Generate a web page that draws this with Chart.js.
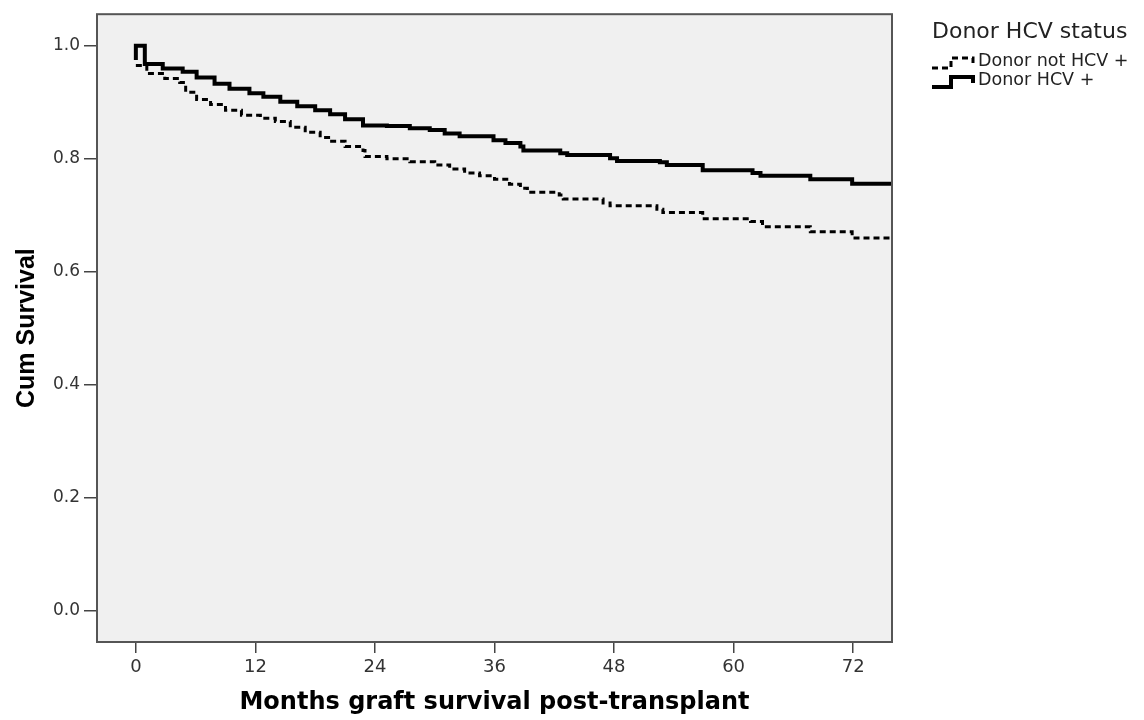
<!DOCTYPE html>
<html lang="en">
<head>
  <meta charset="UTF-8">
  <script src="https://cdn.jsdelivr.net/npm/chart.js"></script>
  <title>Graft survival by donor HCV status</title>
  <style>
    body { margin: 0; background: #fff; }
  </style>
</head>
<body>

<canvas id="kmChart" width="1144" height="720"></canvas>

<script>
  // Kaplan-Meier steps (months, cumulative survival)
  const hcvPosMonths = [0, 0, 0.9, 2.7, 4.7, 6.1, 7.9, 9.4, 11.4, 12.8, 14.5, 16.2, 18.0, 19.5, 21.0, 22.8,
    25.2, 27.5, 29.5, 31.0, 32.5, 35.9, 37.1, 38.6, 38.9, 42.6, 43.3, 47.6, 48.3, 52.6, 53.3,
    56.9, 61.9, 62.7, 67.7, 71.9, 76];
  const hcvPosSurv = [0.975, 1.0, 0.968, 0.960, 0.954, 0.944, 0.933, 0.924, 0.916, 0.910, 0.901, 0.893, 0.886, 0.879, 0.870, 0.859,
    0.858, 0.854, 0.851, 0.845, 0.840, 0.833, 0.828, 0.822, 0.815, 0.810, 0.807, 0.801, 0.796, 0.794, 0.789,
    0.780, 0.775, 0.770, 0.764, 0.756, 0.756];

  const hcvNegMonths = [0, 1.1, 2.9, 4.4, 5.0, 6.1, 7.5, 9.0, 10.6, 12.5, 14.0, 15.5, 17.0, 18.5, 19.5, 21.0,
    22.8, 23.0, 25.2, 27.5, 30.0, 31.5, 33.0, 34.5, 36.0, 37.5, 38.6, 39.3, 42.5, 42.9, 46.9, 47.6,
    52.3, 52.9, 56.9, 61.7, 62.9, 67.7, 71.9, 76];
  const hcvNegSurv = [0.965, 0.951, 0.942, 0.935, 0.918, 0.905, 0.896, 0.886, 0.877, 0.872, 0.866, 0.856, 0.847, 0.838, 0.831, 0.822,
    0.815, 0.804, 0.800, 0.795, 0.789, 0.782, 0.775, 0.770, 0.764, 0.755, 0.748, 0.741, 0.736, 0.729, 0.722, 0.717,
    0.711, 0.705, 0.694, 0.689, 0.680, 0.671, 0.660, 0.660];

  const seriesLabels = ['Donor not HCV +', 'Donor HCV +'];
  const legendTitle = 'Donor HCV status';
  const xTickValues = [0, 12, 24, 36, 48, 60, 72];
  const yTickValues = [0, 0.2, 0.4, 0.6, 0.8, 1.0];

  function toPoints(xs, ys) {
    return xs.map((x, i) => ({ x: x, y: ys[i] }));
  }

  // grey plot panel + frame
  const panelPlugin = {
    id: 'panel',
    beforeDraw(chart) {
      const { ctx, chartArea: a } = chart;
      ctx.save();
      ctx.fillStyle = '#f0f0f0';
      ctx.fillRect(a.left, a.top, a.right - a.left, a.bottom - a.top);
      ctx.restore();
    },
    afterDatasetsDraw(chart) {
      const { ctx, chartArea: a } = chart;
      ctx.save();
      ctx.strokeStyle = '#555';
      ctx.lineWidth = 2;
      ctx.strokeRect(a.left, a.top, a.right - a.left, a.bottom - a.top);
      ctx.restore();
    }
  };

  // SPSS style legend with little step icons
  const stepLegend = {
    id: 'stepLegend',
    afterDraw(chart) {
      const ctx = chart.ctx;
      ctx.save();
      ctx.fillStyle = '#222';
      ctx.textBaseline = 'middle';
      ctx.font = '22px "DejaVu Sans"';
      ctx.fillText(legendTitle, 932, 32);
      const rows = [61, 80];
      chart.data.datasets.forEach((ds, i) => {
        const yc = rows[i];
        ctx.strokeStyle = '#000';
        ctx.lineWidth = ds.borderWidth;
        ctx.setLineDash(ds.borderDash || []);
        ctx.beginPath();
        ctx.moveTo(932, yc + 7);
        ctx.lineTo(951, yc + 7);
        ctx.lineTo(951, yc - 3);
        ctx.lineTo(973, yc - 3);
        ctx.lineTo(973, yc + 3);
        ctx.stroke();
        ctx.setLineDash([]);
        ctx.font = '17.5px "DejaVu Sans"';
        ctx.fillText(ds.label, 978, yc);
      });
      ctx.restore();
    }
  };

  const ctx = document.getElementById('kmChart').getContext('2d');
  new Chart(ctx, {
    type: 'line',
    data: {
      datasets: [{
        label: seriesLabels[0],
        data: toPoints(hcvNegMonths, hcvNegSurv),
        borderColor: '#000',
        borderWidth: 3,
        borderDash: [6, 4],
        stepped: 'before',
        pointRadius: 0,
        fill: false
      }, {
        label: seriesLabels[1],
        data: toPoints(hcvPosMonths, hcvPosSurv),
        borderColor: '#000',
        borderWidth: 4,
        stepped: 'before',
        pointRadius: 0,
        fill: false
      }]
    },
    options: {
      responsive: false,
      animation: false,
      layout: { padding: { left: 0, top: 10, right: 252, bottom: 0 } },
      plugins: {
        legend: { display: false },
        tooltip: { enabled: false }
      },
      scales: {
        x: {
          type: 'linear',
          min: -3.9,
          max: 75.9,
          afterFit: (s) => { s.height = 78; },
          afterBuildTicks: (s) => { s.ticks = xTickValues.map(v => ({ value: v })); },
          grid: { drawOnChartArea: false, drawTicks: true, tickLength: 11, color: '#444', lineWidth: 1.5 },
          border: { display: false },
          ticks: {
            color: '#333',
            padding: 4,
            font: { family: '"DejaVu Sans"', size: 18 },
            callback: (v) => String(v)
          },
          title: {
            display: true,
            text: 'Months graft survival post-transplant',
            color: '#000',
            padding: { top: 0, bottom: 3 },
            font: { family: '"DejaVu Sans"', size: 24, weight: 'bold' }
          }
        },
        y: {
          type: 'linear',
          min: -0.055,
          max: 1.056,
          afterFit: (s) => { s.width = 97; },
          afterBuildTicks: (s) => { s.ticks = yTickValues.map(v => ({ value: v })); },
          grid: { drawOnChartArea: false, drawTicks: true, tickLength: 13, color: '#444', lineWidth: 1.5 },
          border: { display: false },
          ticks: {
            color: '#333',
            padding: 4,
            font: { family: '"DejaVu Sans"', size: 17 },
            callback: (v) => Number(v).toFixed(1)
          },
          title: {
            display: true,
            text: 'Cum Survival',
            color: '#000',
            padding: { top: 12, bottom: 0 },
            font: { family: '"Liberation Sans"', size: 25, weight: 'bold' }
          }
        }
      }
    },
    plugins: [panelPlugin, stepLegend]
  });
</script>

</body>
</html>
